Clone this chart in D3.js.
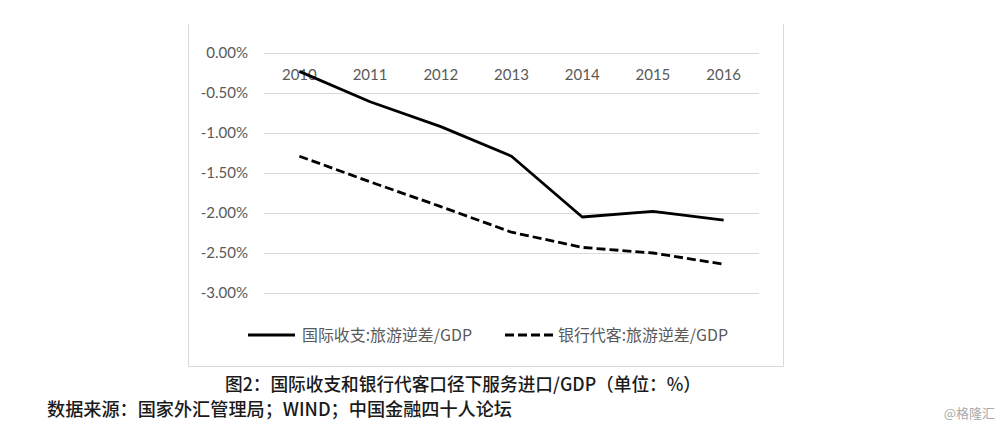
<!DOCTYPE html>
<html><head><meta charset="utf-8">
<script src="https://cdn.jsdelivr.net/npm/d3@7"></script>
<style>body{margin:0;background:#fff;}svg{display:block;}</style>
</head><body>
<svg id="c" width="1000" height="437"></svg>
<script>
const years = ["2010","2011","2012","2013","2014","2015","2016"];
const bopTravel = [-0.23, -0.61, -0.92, -1.29, -2.05, -1.98, -2.09];
const bankTravel = [-1.29, -1.61, -1.92, -2.24, -2.43, -2.50, -2.64];
const yTicks = [0, -0.5, -1.0, -1.5, -2.0, -2.5, -3.0];
const seriesNames = ["国际收支:旅游逆差/GDP", "银行代客:旅游逆差/GDP"];
const caption = "图2：国际收支和银行代客口径下服务进口/GDP（单位：%）";
const source = "数据来源：国家外汇管理局；WIND；中国金融四十人论坛";
const watermark = "@格隆汇";

const svg = d3.select("#c");
const latin = "Lato, 'Noto Sans CJK SC', sans-serif";
const cjk = "'Noto Sans CJK SC', sans-serif";
const grey = "#595959";

// frame
svg.append("path").attr("d","M188.5,24 V366.5 H783.5 V24")
  .attr("fill","none").attr("stroke","#d9d9d9").attr("stroke-width",1);

const x = d3.scaleBand().domain(years).range([264, 759]);
const y = d3.scaleLinear().domain([-3, 0]).range([293, 53]);

// gridlines
svg.append("g").selectAll("line").data(yTicks).join("line")
  .attr("x1", 264).attr("x2", 759)
  .attr("y1", d => Math.round(y(d))+0.5).attr("y2", d => Math.round(y(d))+0.5)
  .attr("stroke","#d9d9d9").attr("stroke-width",1);

// y labels
svg.append("g").selectAll("text").data(yTicks).join("text")
  .attr("x", 248).attr("y", d => y(d)).attr("dy","0.35em")
  .attr("text-anchor","end").attr("font-family",latin).attr("font-size",15)
  .attr("fill",grey).text(d => d3.format(".2%")(d/100).replace("−","-"));

// x labels (at top)
svg.append("g").selectAll("text").data(years).join("text")
  .attr("x", d => x(d)+x.bandwidth()/2).attr("y", 75).attr("dy","0.35em")
  .attr("text-anchor","middle").attr("font-family",latin).attr("font-size",15)
  .attr("fill",grey).text(d => d);

const line = d3.line().x((d,i) => x(years[i])+x.bandwidth()/2).y(d => y(d));

svg.append("path").datum(bopTravel).attr("d", line)
  .attr("fill","none").attr("stroke","#000").attr("stroke-width",2.8)
  .attr("stroke-linejoin","round");
svg.append("path").datum(bankTravel).attr("d", line)
  .attr("fill","none").attr("stroke","#000").attr("stroke-width",2.8)
  .attr("stroke-dasharray","9,4");

// legend
const leg = [
  {x1:248, x2:295, tx:302, dash:null, w:170},
  {x1:505, x2:553, tx:558, dash:"9,4", w:170}
];
leg.forEach((l,i) => {
  svg.append("line").attr("x1",l.x1).attr("x2",l.x2).attr("y1",335).attr("y2",335)
    .attr("stroke","#000").attr("stroke-width",2.8).attr("stroke-dasharray",l.dash);
  svg.append("text").attr("x",l.tx).attr("y",335).attr("dy","0.35em")
    .attr("font-family",cjk).attr("font-size",16).attr("fill",grey)
    .attr("textLength",l.w).attr("lengthAdjust","spacingAndGlyphs")
    .text(seriesNames[i]);
});

// caption & source
svg.append("text").attr("x",225).attr("y",385).attr("dy","0.35em")
  .attr("font-family",cjk).attr("font-size",18).attr("font-weight",500).attr("fill","#1a1a1a")
  .attr("textLength",476).attr("lengthAdjust","spacingAndGlyphs").text(caption);
svg.append("text").attr("x",47).attr("y",410).attr("dy","0.35em")
  .attr("font-family",cjk).attr("font-size",18).attr("font-weight",500).attr("fill","#1a1a1a")
  .attr("textLength",465).attr("lengthAdjust","spacingAndGlyphs").text(source);
svg.append("text").attr("x",995).attr("y",413).attr("dy","0.35em").attr("text-anchor","end")
  .attr("font-family",cjk).attr("font-size",13).attr("fill","#aaa").text(watermark);
</script>
</body></html>
